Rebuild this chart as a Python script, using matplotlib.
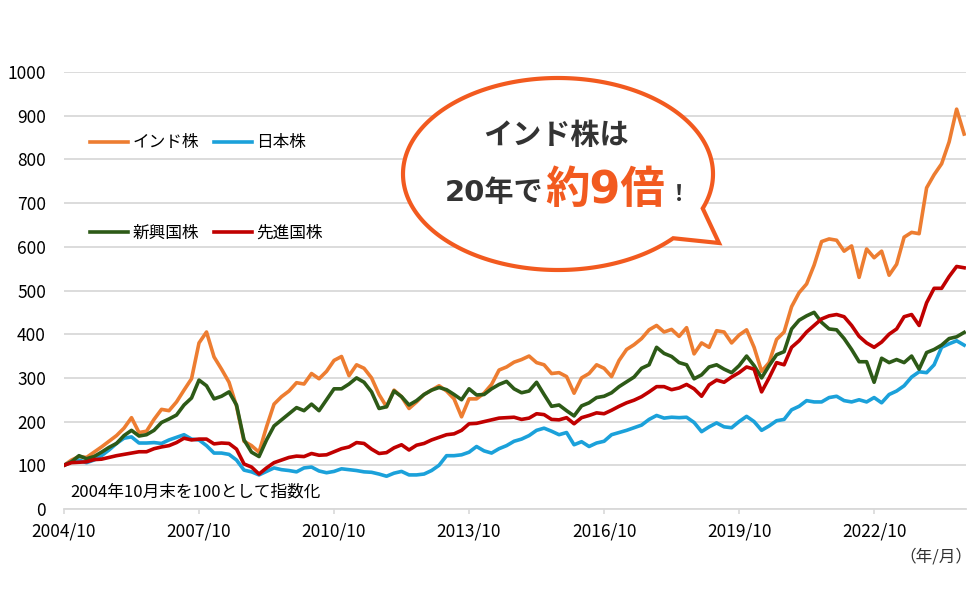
import numpy as np
import matplotlib.pyplot as plt
from matplotlib.patches import Polygon

plt.rcParams['font.family'] = ['Noto Sans CJK JP', 'DejaVu Sans']

# month offsets from 2004/10, sampled every 2 months
months = np.arange(0, 241, 2)
tick_pos = [0, 36, 72, 108, 144, 180, 216]
tick_labels = ['2004/10', '2007/10', '2010/10', '2013/10', '2016/10', '2019/10', '2022/10']

india = [100, 112, 120, 118, 130, 142, 155, 168, 185, 209,
         175, 178, 205, 228, 225, 245, 272, 298, 380, 405,
         348, 320, 290, 235, 155, 145, 130, 188, 240, 257,
         270, 289, 286, 310, 298, 315, 340, 349, 305, 330,
         322, 300, 262, 234, 272, 257, 230, 245, 262, 272,
         282, 270, 252, 211, 252, 252, 265, 285, 318, 325,
         336, 342, 350, 335, 330, 310, 312, 303, 265, 300,
         310, 330, 322, 303, 340, 365, 376, 390, 410, 420,
         405, 411, 395, 415, 355, 380, 370, 408, 405, 380,
         398, 410, 370, 315, 335, 388, 405, 463, 495, 515,
         558, 612, 618, 615, 590, 602, 530, 595, 575, 590,
         535, 560, 622, 633, 630, 735, 765, 790, 840, 915,
         858]
japan = [100, 108, 112, 106, 112, 122, 135, 150, 162, 165,
         151, 151, 152, 150, 158, 164, 170, 160, 158, 145,
         128, 128, 125, 112, 89, 85, 78, 86, 94, 90,
         88, 85, 94, 96, 87, 83, 86, 92, 90, 88,
         85, 84, 80, 75, 82, 86, 78, 78, 80, 88,
         100, 122, 122, 124, 130, 143, 133, 128, 138, 145,
         155, 160, 168, 180, 185, 178, 170, 175, 147, 154,
         143, 151, 155, 170, 175, 180, 186, 192, 205, 214,
         208, 210, 209, 210, 198, 177, 188, 197, 188, 186,
         200, 212, 200, 180, 190, 202, 205, 227, 235, 248,
         245, 245, 255, 258, 248, 245, 250, 245, 255, 243,
         262, 270, 282, 302, 314, 312, 330, 370, 378, 385,
         375]
emerging = [100, 108, 122, 115, 120, 130, 141, 150, 168, 180,
            167, 170, 180, 198, 206, 215, 238, 254, 295, 282,
            252, 258, 268, 238, 158, 130, 120, 158, 190, 204,
            218, 232, 225, 240, 225, 250, 275, 275, 286, 300,
            290, 268, 230, 234, 270, 257, 238, 248, 262, 272,
            278, 273, 262, 250, 275, 261, 262, 275, 285, 292,
            275, 266, 270, 290, 262, 235, 238, 225, 213, 236,
            243, 255, 258, 266, 280, 291, 302, 322, 330, 370,
            356, 349, 335, 330, 298, 307, 325, 330, 320, 312,
            328, 350, 328, 300, 328, 353, 360, 412, 432, 442,
            450, 427, 412, 410, 390, 365, 337, 337, 290, 345,
            335, 342, 335, 350, 320, 358, 365, 375, 390, 394,
            404]
developed = [100, 106, 107, 108, 113, 114, 118, 122, 125, 128,
             131, 131, 138, 142, 145, 152, 162, 158, 160, 160,
             149, 151, 150, 137, 103, 96, 80, 94, 106, 112,
             118, 121, 120, 127, 123, 124, 131, 138, 142, 152,
             150, 137, 127, 129, 140, 147, 135, 146, 150, 158,
             164, 170, 172, 180, 195, 196, 200, 204, 208, 209,
             210, 205, 208, 218, 216, 205, 204, 209, 195, 209,
             214, 220, 218, 226, 235, 243, 249, 257, 268, 280,
             280, 273, 277, 285, 275, 258, 284, 295, 290, 302,
             312, 325, 320, 268, 300, 335, 330, 370, 385, 405,
             420, 435, 442, 445, 440, 420, 395, 380, 370, 382,
             400, 412, 440, 445, 420, 472, 505, 505, 532, 555,
             552]

names = ['インド株', '日本株', '新興国株', '先進国株']
colors = ['#ED7D31', '#1BA1DA', '#2D5A17', '#C00000']

fig = plt.figure(figsize=(9.8, 6), dpi=100)
ax = fig.add_axes([64 / 980, 1 - 509 / 600, 902 / 980, 437 / 600])

lines = []
for vals, name, c in zip([india, japan, emerging, developed], names, colors):
    ln, = ax.plot(months, vals, color=c, lw=2.6, label=name, solid_joinstyle='round')
    lines.append(ln)

ax.set_xlim(0, 240.5)
ax.set_ylim(0, 1000)
ax.set_yticks(range(0, 1001, 100))
ax.set_xticks(tick_pos, tick_labels)
ax.grid(axis='y', color='#d9d9d9', lw=1.3)
ax.set_axisbelow(True)
for s in ['left', 'right', 'top']:
    ax.spines[s].set_visible(False)
ax.spines['bottom'].set_color('#d9d9d9')
ax.spines['bottom'].set_linewidth(1.3)
ax.tick_params(axis='x', length=3.6, color='#d9d9d9', width=1.2, labelsize=12.5, pad=6)
ax.tick_params(axis='y', length=0, labelsize=12.5, pad=13)

# legend in two rows like the original
leg_kw = dict(ncol=2, loc='center left', bbox_transform=fig.transFigure, frameon=False,
              fontsize=12, handlelength=2.3, handletextpad=0.25, columnspacing=0.9,
              borderpad=0, borderaxespad=0)
l1 = ax.legend(handles=lines[:2], bbox_to_anchor=(90 / 980, 1 - 143 / 600), **leg_kw)
ax.add_artist(l1)
ax.legend(handles=lines[2:], bbox_to_anchor=(90 / 980, 1 - 233 / 600), **leg_kw)

fig.text(70 / 980, 1 - 492 / 600, '2004年10月末を100として指数化', fontsize=12, va='center')
fig.text(972 / 980, 1 - 557 / 600, '（年/月）', fontsize=12, va='center', ha='right', color='#333333')

# speech bubble
cx, cy, a, b = 558, 174, 155, 96
th = np.radians(np.linspace(42, 381, 300))
pts = [((cx + a * np.cos(t)) / 100, (600 - (cy + b * np.sin(t))) / 100) for t in th]
pts.append((719 / 100, (600 - 243) / 100))
bubble = Polygon(pts, closed=True, fc='white', ec='#F25A1F', lw=3,
                 transform=fig.dpi_scale_trans, zorder=5, joinstyle='miter')
fig.add_artist(bubble)

wide = ['DejaVu Sans', 'Noto Sans CJK JP']
fig.text(556 / 980, 1 - 135 / 600, 'インド株は', ha='center', va='center', fontsize=21,
         weight='bold', color='#333333', zorder=6)
fig.text(543 / 980, 1 - 201 / 600, '20年で', ha='right', va='baseline', fontsize=21,
         weight='bold', color='#333333', zorder=6, family=wide)
fig.text(545 / 980, 1 - 203 / 600, '約9倍', ha='left', va='baseline', fontsize=32,
         weight='bold', color='#F25A1F', zorder=6, family=wide)
fig.text(668 / 980, 1 - 201 / 600, '！', ha='left', va='baseline', fontsize=16,
         weight='bold', color='#333333', zorder=6)

fig.savefig('out.png', dpi=100)
